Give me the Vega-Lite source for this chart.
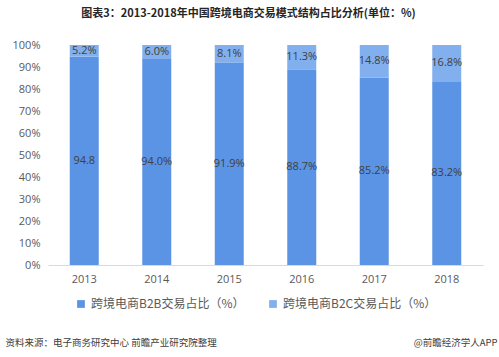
{
  "$schema": "https://vega.github.io/schema/vega-lite/v6.json",
  "autosize": {"type": "none"},
  "width": 435,
  "height": 220,
  "padding": {"left": 48, "top": 45, "right": 16, "bottom": 92},
  "background": "white",
  "config": {
    "font": "Noto Sans CJK SC",
    "view": {"stroke": null}
  },
  "title": {
    "text": "图表3：2013-2018年中国跨境电商交易模式结构占比分析(单位：%)",
    "fontSize": 11,
    "fontWeight": "bold",
    "color": "#262626",
    "anchor": "middle",
    "dx": -17,
    "offset": 20
  },
  "data": {
    "values": [
      {"year": "2013", "type": "跨境电商B2B交易占比（%）", "value": 94.8, "label": "94.8"},
      {"year": "2014", "type": "跨境电商B2B交易占比（%）", "value": 94.0, "label": "94.0%"},
      {"year": "2015", "type": "跨境电商B2B交易占比（%）", "value": 91.9, "label": "91.9%"},
      {"year": "2016", "type": "跨境电商B2B交易占比（%）", "value": 88.7, "label": "88.7%"},
      {"year": "2017", "type": "跨境电商B2B交易占比（%）", "value": 85.2, "label": "85.2%"},
      {"year": "2018", "type": "跨境电商B2B交易占比（%）", "value": 83.2, "label": "83.2%"},
      {"year": "2013", "type": "跨境电商B2C交易占比（%）", "value": 5.2, "label": "5.2%"},
      {"year": "2014", "type": "跨境电商B2C交易占比（%）", "value": 6.0, "label": "6.0%"},
      {"year": "2015", "type": "跨境电商B2C交易占比（%）", "value": 8.1, "label": "8.1%"},
      {"year": "2016", "type": "跨境电商B2C交易占比（%）", "value": 11.3, "label": "11.3%"},
      {"year": "2017", "type": "跨境电商B2C交易占比（%）", "value": 14.8, "label": "14.8%"},
      {"year": "2018", "type": "跨境电商B2C交易占比（%）", "value": 16.8, "label": "16.8%"}
    ]
  },
  "transform": [
    {"stack": "value", "groupby": ["year"], "sort": [{"field": "type", "order": "ascending"}], "as": ["v0", "v1"]},
    {"calculate": "(datum.v0 + datum.v1) / 2", "as": "mid"}
  ],
  "encoding": {
    "x": {
      "field": "year",
      "type": "ordinal",
      "scale": {"paddingInner": 0.6, "paddingOuter": 0.3},
      "axis": {
        "title": "资料来源：电子商务研究中心 前瞻产业研究院整理",
        "titleFontSize": 9.5,
        "titleFontWeight": "normal",
        "titleColor": "#404040",
        "titleAnchor": "start",
        "titleAlign": "left",
        "titleBaseline": "middle",
        "titleX": -43,
        "titleY": 77,
        "labelAngle": 0,
        "labelFontSize": 11,
        "labelColor": "#595959",
        "labelFont": "Open Sans",
        "labelPadding": 8,
        "ticks": false,
        "domainColor": "#d9d9d9",
        "domainWidth": 1
      }
    }
  },
  "layer": [
    {
      "mark": {"type": "bar"},
      "encoding": {
        "y": {
          "field": "v0",
          "type": "quantitative",
          "scale": {"domain": [0, 100]},
          "axis": {
            "title": "@前瞻经济学人APP",
            "titleAngle": 0,
            "titleFontSize": 9.5,
            "titleFontWeight": "normal",
            "titleColor": "#404040",
            "titleAlign": "right",
            "titleBaseline": "middle",
            "titleX": 449,
            "titleY": 297,
            "values": [0, 10, 20, 30, 40, 50, 60, 70, 80, 90, 100],
            "labelExpr": "datum.value + '%'",
            "labelOverlap": false,
            "labelFontSize": 11,
            "labelColor": "#595959",
            "labelFont": "Open Sans",
            "labelPadding": 8,
            "ticks": false,
            "domain": false,
            "grid": false
          }
        },
        "y2": {"field": "v1"},
        "color": {
          "field": "type",
          "type": "nominal",
          "scale": {"range": ["#5b94e5", "#82afed"]},
          "legend": {
            "title": null,
            "orient": "none",
            "legendX": 27,
            "legendY": 253,
            "direction": "horizontal",
            "symbolType": "square",
            "symbolSize": 60,
            "labelFontSize": 12,
            "labelColor": "#595959",
            "columnPadding": 22
          }
        }
      }
    },
    {
      "mark": {"type": "text", "fontSize": 11, "color": "#404040", "font": "Open Sans"},
      "encoding": {
        "y": {
          "field": "mid",
          "type": "quantitative",
          "axis": {
            "title": "@前瞻经济学人APP",
            "titleAngle": 0,
            "titleFontSize": 9.5,
            "titleFontWeight": "normal",
            "titleColor": "#404040",
            "titleAlign": "right",
            "titleBaseline": "middle",
            "titleX": 449,
            "titleY": 297,
            "values": [0, 10, 20, 30, 40, 50, 60, 70, 80, 90, 100],
            "labelExpr": "datum.value + '%'",
            "labelOverlap": false,
            "labelFontSize": 11,
            "labelColor": "#595959",
            "labelFont": "Open Sans",
            "labelPadding": 8,
            "ticks": false,
            "domain": false,
            "grid": false
          }
        },
        "text": {"field": "label"}
      }
    }
  ]
}
